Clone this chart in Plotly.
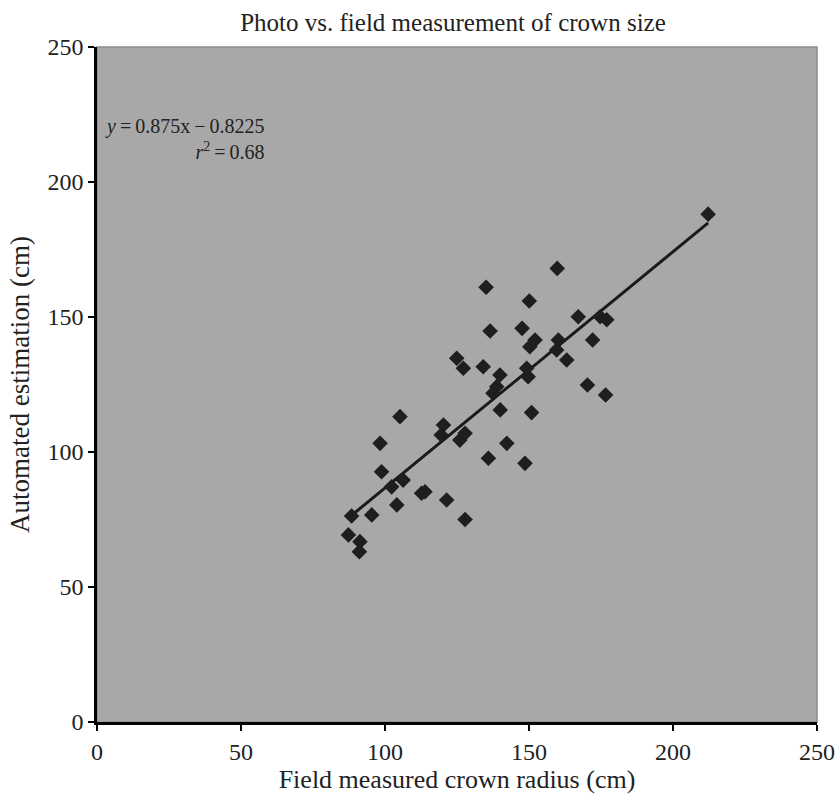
import plotly.graph_objects as go

# Data
field_radius = [212.2, 159.8, 135.1, 150.1, 136.5, 147.6, 152.1, 150.3, 167.1, 174.7,
                177.0, 172.1, 160.2, 159.6, 163.1, 134.1, 124.9, 127.2, 149.2, 149.7,
                139.9, 138.8, 137.5, 140.0, 150.9, 170.3, 176.6, 142.3, 135.9, 148.6,
                127.8, 126.0, 105.2, 98.3, 98.8, 120.3, 119.5, 102.3, 106.3, 113.9,
                112.7, 121.4, 104.1, 95.4, 88.4, 87.3, 91.3, 91.1, 127.8]
automated_est = [188.1, 168.0, 161.0, 155.9, 144.8, 145.8, 141.5, 139.0, 150.1, 150.1,
                 149.0, 141.5, 141.5, 137.8, 134.1, 131.6, 134.7, 131.0, 131.0, 127.9,
                 128.5, 124.2, 121.8, 115.6, 114.6, 124.8, 121.1, 103.2, 97.7, 95.8,
                 106.9, 104.4, 113.1, 103.2, 92.7, 110.0, 106.3, 87.1, 89.6, 85.3,
                 84.7, 82.2, 80.4, 76.7, 76.3, 69.3, 66.8, 63.1, 75.0]
slope = 0.875
intercept = -0.8225
r_squared = 0.68
x_ticks = [0, 50, 100, 150, 200, 250]
y_ticks = [0, 50, 100, 150, 200, 250]

FONT = "Liberation Serif"
TXT = "#222222"
THIN = "\u2009"

x_fit = [min(field_radius), max(field_radius)]
y_fit = [slope * v + intercept for v in x_fit]

fig = go.Figure()
fig.add_trace(go.Scatter(
    x=x_fit, y=y_fit, mode="lines",
    line=dict(color="#1a1a1a", width=3), showlegend=False, hoverinfo="skip"))
fig.add_trace(go.Scatter(
    x=field_radius, y=automated_est, mode="markers",
    marker=dict(symbol="diamond", size=12, color="#1e1e1e"),
    showlegend=False))

fig.add_shape(type="rect", xref="paper", yref="paper", x0=0, y0=0, x1=1, y1=1,
              line=dict(color="#8c8c8c", width=1.5), layer="below")

fig.add_annotation(
    x=58.7, y=216, xref="x", yref="y", xanchor="right", yanchor="middle",
    align="right", showarrow=False,
    text=(f"<i>y</i>{THIN}={THIN}{slope}x{THIN}−{THIN}{abs(intercept)}"
          f"<br><i>r</i><sup>2</sup>{THIN}={THIN}{r_squared}"),
    font=dict(family=FONT, size=20, color=TXT))

axis_common = dict(
    showgrid=False, zeroline=False, showline=True, linecolor="black", linewidth=2.5,
    ticks="outside", ticklen=6, tickwidth=2, tickcolor="black",
    tickfont=dict(family=FONT, size=24, color=TXT), mirror=False,
)

fig.update_xaxes(range=[0, 250], tickvals=x_ticks,
                 title=dict(text="Field measured crown radius (cm)",
                            font=dict(family=FONT, size=26, color=TXT), standoff=4),
                 automargin=False, **axis_common)
fig.update_yaxes(range=[0, 250], tickvals=y_ticks,
                 title=dict(text="Automated estimation (cm)",
                            font=dict(family=FONT, size=27, color=TXT), standoff=11),
                 automargin=False, **axis_common)

fig.update_layout(
    width=835, height=796,
    margin=dict(l=97, r=18, t=47, b=74),
    plot_bgcolor="#a8a8a8", paper_bgcolor="white",
    title=dict(text="Photo vs. field measurement of crown size",
               x=453 / 835, xref="container", y=1 - 22 / 796, yref="container",
               xanchor="center", yanchor="middle",
               font=dict(family=FONT, size=25, color=TXT)),
)

fig.write_html("out.html", config={"displayModeBar": False},
               post_script="document.body.style.margin='0';document.body.style.padding='0';")
